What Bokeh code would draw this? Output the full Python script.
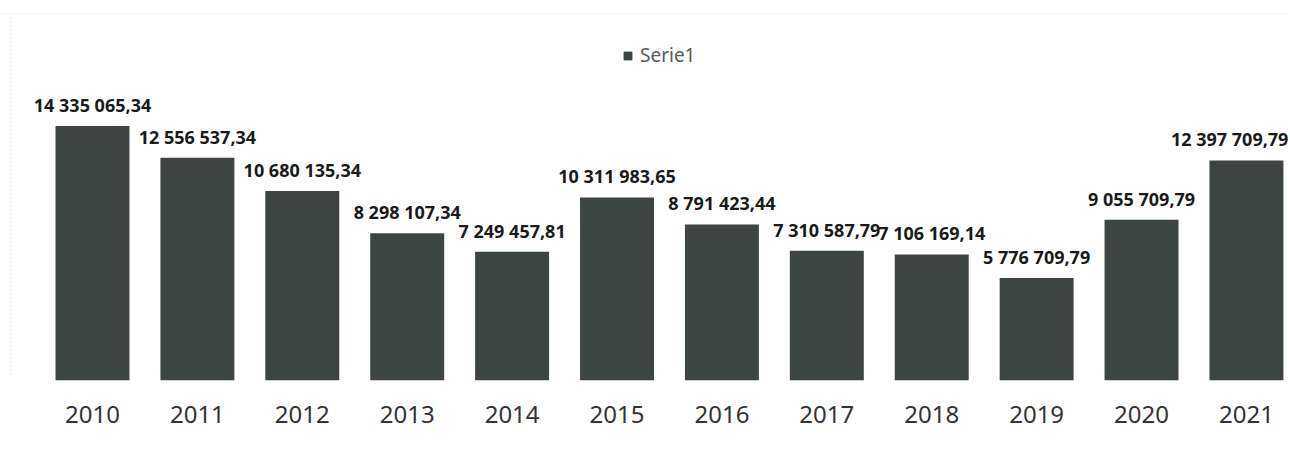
from bokeh.plotting import figure
from bokeh.models import ColumnDataSource, FixedTicker, Legend, LegendItem, Span, Range1d
from bokeh.core.properties import value
from bokeh.embed import file_html
from bokeh.resources import INLINE

years = ["2010", "2011", "2012", "2013", "2014", "2015", "2016", "2017", "2018", "2019", "2020", "2021"]
values = [14335065.34, 12556537.34, 10680135.34, 8298107.34, 7249457.81, 10311983.65,
          8791423.44, 7310587.79, 7106169.14, 5776709.79, 9055709.79, 12397709.79]
series_name = "Serie1"

def fmt(v):
    return f"{v:,.2f}".replace(",", " ").replace(".", ",")

idx = list(range(len(years)))
bar_w = 0.705
src = ColumnDataSource(dict(x=idx, top=values, label=[fmt(v) for v in values]))
src_main = ColumnDataSource(dict(x=idx[:-1], top=values[:-1], label=[fmt(v) for v in values[:-1]]))
src_last = ColumnDataSource(dict(x=[idx[-1] + bar_w / 2], top=[values[-1]], label=[fmt(values[-1])]))

p = figure(width=1290, height=472, output_backend="svg", toolbar_location=None,
           x_range=Range1d(-0.877, 11.42), y_range=Range1d(0, 20.68e6),
           min_border_left=0, min_border_right=0, min_border_top=13, min_border_bottom=92)

bar_color = "#3d4543"
r = p.vbar(x="x", top="top", width=bar_w, bottom=0, source=src,
           fill_color=bar_color, line_color=None)

lbl = dict(y="top", text="label", y_offset=-9, text_baseline="bottom",
           text_font=value("Noto Sans"), text_font_style="bold",
           text_font_size="18px", text_color="#1a1a1a")
p.text(x="x", source=src_main, text_align="center", **lbl)
p.text(x="x", source=src_last, text_align="right", x_offset=5, **lbl)

p.yaxis.visible = False
p.xgrid.visible = False
p.ygrid.visible = False
p.outline_line_color = None

ax = p.xaxis[0]
ax.ticker = FixedTicker(ticks=idx)
ax.major_label_overrides = {i: y for i, y in zip(idx, years)}
ax.axis_line_color = None
ax.major_tick_line_color = None
ax.minor_tick_line_color = None
ax.major_label_standoff = 19
ax.major_label_text_font = "Noto Sans"
ax.major_label_text_font_size = "24px"
ax.major_label_text_color = "#333333"

top_line = Span(location=20.68e6, dimension="width", line_color="#c8c8c8",
                line_dash="1 2", line_width=1)
left_line = Span(location=-0.78, dimension="height", line_color="#dddddd",
                 line_dash="1 3", line_width=1)
p.add_layout(top_line)
p.add_layout(left_line)

legend = Legend(items=[LegendItem(label=series_name, renderers=[r])],
                location=(622, 312), orientation="horizontal",
                padding=0, margin=0, spacing=0,
                glyph_width=11, glyph_height=11, label_standoff=7,
                label_text_font="Noto Sans", label_text_font_size="19px",
                label_text_color="#595959",
                border_line_color=None, background_fill_alpha=0)
p.add_layout(legend)

open("out.html", "w").write(file_html(p, INLINE))
